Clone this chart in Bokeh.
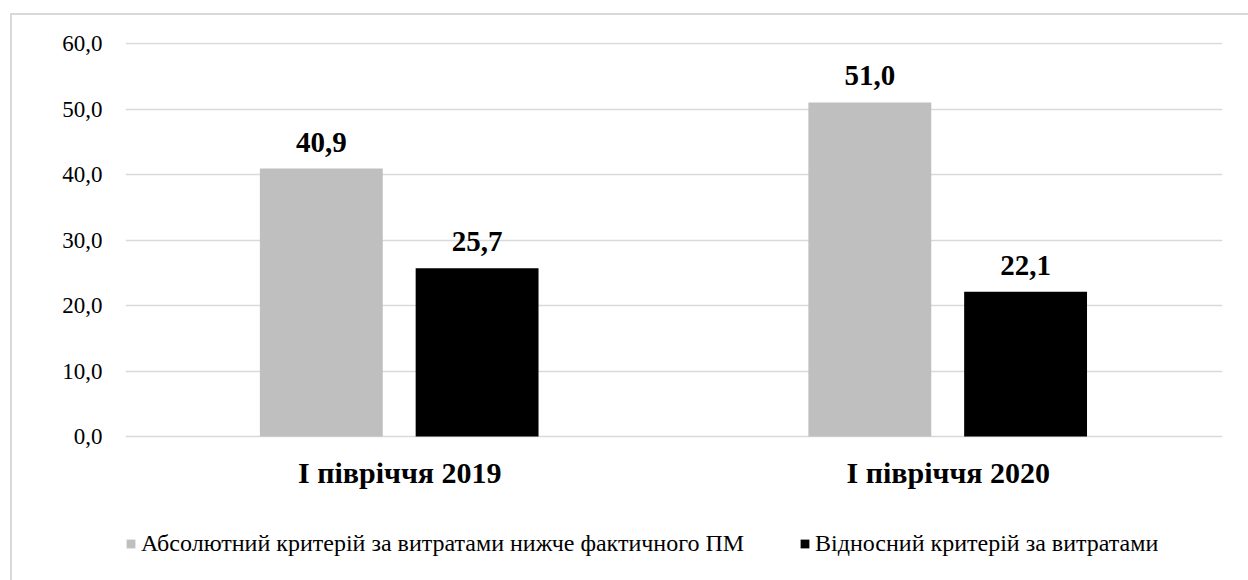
from bokeh.plotting import figure
from bokeh.models import ColumnDataSource, FactorRange, Legend, LegendItem, FixedTicker, LabelSet
from bokeh.transform import dodge
from bokeh.embed import file_html
from bokeh.resources import INLINE

categories = ["І півріччя 2019", "І півріччя 2020"]
series_names = ["Абсолютний критерій за витратами нижче фактичного ПМ",
                "Відносний критерій за витратами"]
absolute_vals = [40.9, 51.0]
relative_vals = [25.7, 22.1]
y_ticks = [0, 10, 20, 30, 40, 50, 60]
y_tick_labels = ["0,0", "10,0", "20,0", "30,0", "40,0", "50,0", "60,0"]

FONT = "Liberation Serif, Times New Roman, serif"

def fmt(v):
    return f"{v:.1f}".replace(".", ",")

src = ColumnDataSource(dict(
    cat=categories,
    zero=[0] * len(categories),
    a=absolute_vals,
    r=relative_vals,
    a_lbl=[fmt(v) for v in absolute_vals],
    r_lbl=[fmt(v) for v in relative_vals],
))

# frame: 60 -> y=43, 0 -> y=436, extends to the bottom edge (580) to host labels and legend
PX = 393 / 60.0
p = figure(x_range=FactorRange(*categories),
           y_range=(-(580 - 436) / PX, 60 + 1 / PX),
           width=1248, height=580, output_backend="svg", toolbar_location=None,
           min_border_left=125, min_border_right=26, min_border_top=42, min_border_bottom=0)
p.x_range.range_padding = 0
p.outline_line_color = None
p.background_fill_color = "white"
p.border_fill_alpha = 0
p.styles = {"background": "linear-gradient(#D9D9D9, #D9D9D9) 10px 13px / 2px 100% no-repeat, "
                          "linear-gradient(#D9D9D9, #D9D9D9) 10px 13px / 100% 2px no-repeat, #FFFFFF"}

ra = p.vbar(x=dodge("cat", -0.143, range=p.x_range), top="a", bottom=0, width=0.224, source=src,
            fill_color="#BFBFBF", line_color=None)
rr = p.vbar(x=dodge("cat", 0.141, range=p.x_range), top="r", bottom=0, width=0.224, source=src,
            fill_color="#000000", line_color=None)

for xoff, col, lbl in [(-0.143, "a", "a_lbl"), (0.141, "r", "r_lbl")]:
    ls = LabelSet(x=dodge("cat", xoff, range=p.x_range), y=col, text=lbl, source=src,
                  text_align="center", text_baseline="alphabetic", y_offset=17,
                  text_font=FONT, text_font_style="bold", text_font_size="29px",
                  text_color="black")
    p.add_layout(ls)

# category labels under the bars
cat_labels = LabelSet(x="cat", y="zero", text="cat", source=src,
                      text_align="center", text_baseline="alphabetic", y_offset=-46,
                      text_font=FONT, text_font_style="bold", text_font_size="30px",
                      text_color="black")
p.add_layout(cat_labels)

p.xaxis.visible = False

p.yaxis.ticker = FixedTicker(ticks=y_ticks)
p.yaxis.major_label_overrides = {t: l for t, l in zip(y_ticks, y_tick_labels)}
p.yaxis.major_label_text_font = FONT
p.yaxis.major_label_text_font_size = "23px"
p.yaxis.major_label_text_color = "#000000"
p.yaxis.axis_line_color = None
p.yaxis.major_tick_line_color = None
p.yaxis.minor_tick_line_color = None
p.yaxis.major_label_standoff = 17

p.xgrid.grid_line_color = None
p.ygrid.grid_line_color = "#D9D9D9"
p.ygrid.grid_line_width = 1.5

common = dict(orientation="horizontal",
              label_text_font=FONT, label_text_font_size="24px", label_text_color="#000000",
              glyph_width=11, glyph_height=11, label_standoff=5,
              border_line_color=None, background_fill_alpha=0, margin=0, padding=0)
leg1 = Legend(items=[LegendItem(label=series_names[0], renderers=[ra])], location=(0, 23), **common)
leg2 = Legend(items=[LegendItem(label=series_names[1], renderers=[rr])], location=(674, 23), **common)
p.add_layout(leg1, "center")
p.add_layout(leg2, "center")

open("out.html", "w").write(file_html(p, INLINE))
